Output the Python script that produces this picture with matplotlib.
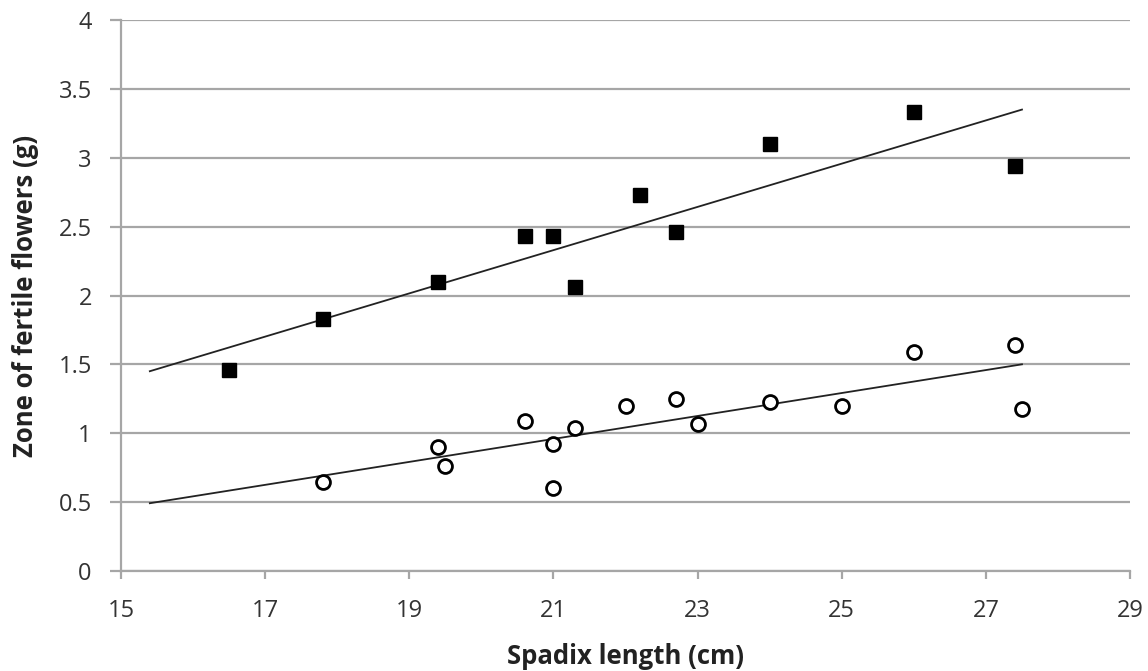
import numpy as np
import matplotlib
matplotlib.use("Agg")
import matplotlib.pyplot as plt

plt.rcParams['font.family'] = ['Open Sans', 'DejaVu Sans']

# fertile flowers zone, squares
sq_x = [16.5, 17.8, 19.4, 20.6, 21.0, 21.3, 22.2, 22.7, 24.0, 26.0, 27.4]
sq_y = [1.46, 1.83, 2.10, 2.43, 2.43, 2.06, 2.73, 2.46, 3.10, 3.33, 2.94]

# circles
ci_x = [17.8, 19.4, 19.5, 20.6, 21.0, 21.0, 21.3, 22.0, 22.7, 23.0, 24.0, 25.0, 26.0, 27.4, 27.5]
ci_y = [0.65, 0.90, 0.76, 1.09, 0.92, 0.60, 1.04, 1.20, 1.25, 1.07, 1.23, 1.20, 1.59, 1.64, 1.18]

trend_span = [15.4, 27.5]
x_ticks = [15, 17, 19, 21, 23, 25, 27, 29]
y_ticks = [0, 0.5, 1, 1.5, 2, 2.5, 3, 3.5, 4]
y_labels = ['0', '0.5', '1', '1.5', '2', '2.5', '3', '3.5', '4']

grid_c = '#a6a6a6'
txt_c = '#333333'

fig = plt.figure(figsize=(11.48, 6.71), dpi=100)
ax = fig.add_axes([0.1054, 0.149, 0.879, 0.821])

tx = np.array(trend_span)
for xs, ys in ((sq_x, sq_y), (ci_x, ci_y)):
    k, b = np.polyfit(xs, ys, 1)
    ax.plot(tx, k*tx + b, color='#222222', lw=1.3, zorder=2)

ax.plot(sq_x, sq_y, 's', color='black', ms=10, zorder=3)
ax.plot(ci_x, ci_y, 'o', mfc='white', mec='black', mew=2.0, ms=10, zorder=3)

ax.set_xlim(15, 29)
ax.set_ylim(0, 4)
ax.set_xticks(x_ticks)
ax.set_yticks(y_ticks)
ax.set_yticklabels(y_labels)
ax.grid(axis='y', color=grid_c, lw=1.6, zorder=0)
ax.set_axisbelow(True)

for s in ('top', 'right'):
    ax.spines[s].set_visible(False)
for s in ('left', 'bottom'):
    ax.spines[s].set_color(grid_c)
    ax.spines[s].set_linewidth(1.6)
ax.tick_params(axis='y', length=8, width=1.6, color=grid_c, labelsize=17, pad=13, labelcolor=txt_c)
ax.tick_params(axis='x', length=6, width=1.6, color=grid_c, labelsize=17, pad=14, labelcolor=txt_c)

ax.set_xlabel('Spadix length (cm)', fontsize=18.5, fontweight='bold', color='#222222', va='center')
ax.set_ylabel('Zone of fertile flowers (g)', fontsize=18.5, fontweight='bold', color='#222222', va='center')
ax.xaxis.set_label_coords(0.5, -0.156)
ax.yaxis.set_label_coords(-0.095, 0.5)

fig.savefig('out.png', dpi=100)
